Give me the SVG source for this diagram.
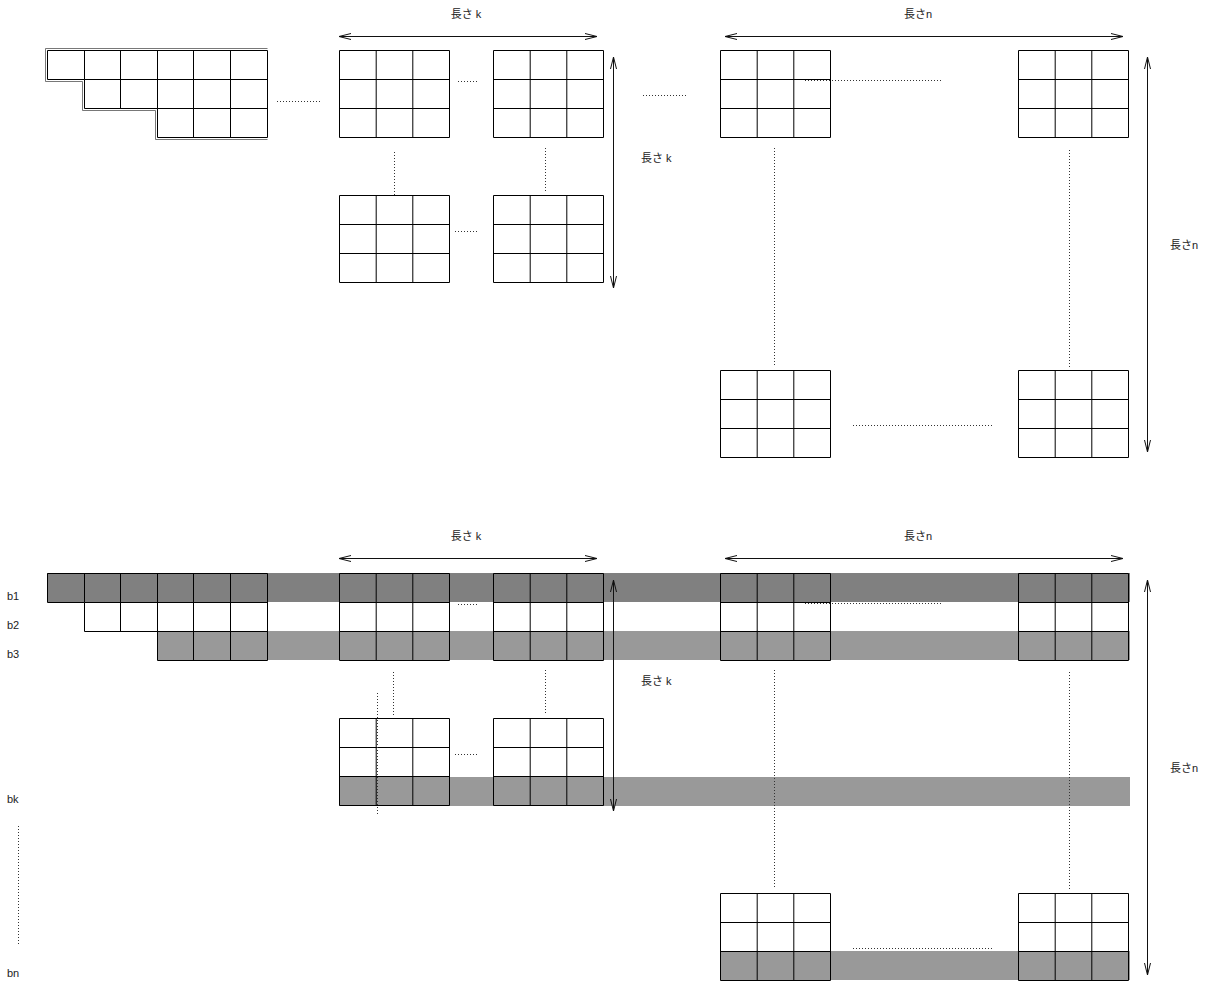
<svg xmlns="http://www.w3.org/2000/svg" xmlns:xlink="http://www.w3.org/1999/xlink" width="1210" height="983" viewBox="0 0 1210 983">
<style>
.grid{fill:none;stroke:#000;stroke-width:1}
.dot{fill:none;stroke:#333;stroke-width:1;stroke-dasharray:1 2}
.arr{fill:none;stroke:#111;stroke-width:1}
.lbl{font-family:"Liberation Sans","Noto Sans CJK JP",sans-serif;font-size:11px;fill:#222}
.dark{fill:#808080}
.light{fill:#999999}
</style>
<defs>
<marker id="chev" viewBox="-13 -4 14 8" refX="0" refY="0" markerWidth="14" markerHeight="8" markerUnits="userSpaceOnUse" orient="auto-start-reverse">
<path d="M-12,-3 L0,0 L-12,3" fill="none" stroke="#111" stroke-width="1"/>
</marker>
<path id="blk" class="grid" d="M0,0H110V87H0Z M36.7,0V87 M73.3,0V87 M0,29H110 M0,58H110"/>
<path id="row3" class="grid" d="M0,0H110V29H0Z M36.7,0V29 M73.3,0V29"/>
</defs>
<rect width="1210" height="983" fill="#fff"/>

<!-- ===== TOP SECTION ===== -->
<g id="top-stair">
<path class="grid" d="M47.5,50.5H267.5V137.5H157.5V108.5H84.5V79.5H47.5Z"/>
<path fill="none" stroke="#555" stroke-width="0.8" d="M45.5,48.5H267.5 M45.5,48.5V81.5H82.5V110.5H155.5V139.5H267.5"/>
<path class="grid" d="M84.5,50.5V79.5 M120.5,50.5V108.5 M157.5,50.5V108.5 M193.5,50.5V137.5 M230.5,50.5V137.5 M84.5,79.5H267.5 M157.5,108.5H267.5"/>
</g>
<g id="top-A"><use xlink:href="#blk" x="339.5" y="50.5"/></g>
<g id="top-B"><use xlink:href="#blk" x="493.5" y="50.5"/></g>
<g id="top-C"><use xlink:href="#blk" x="339.5" y="195.5"/></g>
<g id="top-D"><use xlink:href="#blk" x="493.5" y="195.5"/></g>
<g id="top-E"><use xlink:href="#blk" x="720.5" y="50.5"/></g>
<g id="top-F"><use xlink:href="#blk" x="1018.5" y="50.5"/></g>
<g id="top-G"><use xlink:href="#blk" x="720.5" y="370.5"/></g>
<g id="top-H"><use xlink:href="#blk" x="1018.5" y="370.5"/></g>

<!-- ===== BOTTOM SECTION ===== -->
<g id="bands">
<rect class="dark" x="47" y="573" width="1083" height="29"/>
<rect class="light" x="157" y="631" width="973" height="29"/>
<rect class="light" x="339" y="777" width="791" height="29"/>
<rect class="light" x="720" y="951" width="410" height="29"/>
</g>
<g id="bot-stair">
<path class="grid" d="M47.5,573.5H267.5V660.5H157.5V631.5H84.5V602.5H47.5Z"/>
<path class="grid" d="M84.5,573.5V602.5 M120.5,573.5V631.5 M157.5,573.5V631.5 M193.5,573.5V660.5 M230.5,573.5V660.5 M84.5,602.5H267.5 M157.5,631.5H267.5"/>
</g>
<g id="bot-A"><use xlink:href="#blk" x="339.5" y="573.5"/></g>
<g id="bot-B"><use xlink:href="#blk" x="493.5" y="573.5"/></g>
<g id="bot-C"><use xlink:href="#blk" x="339.5" y="718.5"/></g>
<g id="bot-D"><use xlink:href="#blk" x="493.5" y="718.5"/></g>
<g id="bot-E"><use xlink:href="#blk" x="720.5" y="573.5"/></g>
<g id="bot-F"><use xlink:href="#blk" x="1018.5" y="573.5"/></g>
<g id="bot-G"><use xlink:href="#blk" x="720.5" y="893.5"/></g>
<g id="bot-H"><use xlink:href="#blk" x="1018.5" y="893.5"/></g>

<!-- ===== CONNECTORS ===== -->
<g id="connectors">
<!-- top dotted -->
<path class="dot" d="M277,101.5H321"/>
<path class="dot" d="M458,81.5H479"/>
<path class="dot" d="M643,95.5H687"/>
<path class="dot" d="M805,80.5H943"/>
<path class="dot" d="M394.5,152V195"/>
<path class="dot" d="M545.5,148V192"/>
<path class="dot" d="M455,231.5H479"/>
<path class="dot" d="M774.5,148V366"/>
<path class="dot" d="M1069.5,150V367"/>
<path class="dot" d="M853,425.5H993"/>
<!-- bottom dotted -->
<path class="dot" d="M458,604.5H479"/>
<path class="dot" d="M805,603.5H943"/>
<path class="dot" d="M393.5,672V715"/>
<path class="dot" d="M377.5,693V814"/>
<path class="dot" d="M545.5,670V713"/>
<path class="dot" d="M455,754.5H479"/>
<path class="dot" d="M774.5,670V887"/>
<path class="dot" d="M1069.5,672V890"/>
<path class="dot" d="M853,948.5H993"/>
<path class="dot" d="M18.5,826V946"/>
<!-- arrows -->
<path class="arr" d="M339,36.5H597" marker-start="url(#chev)" marker-end="url(#chev)"/>
<path class="arr" d="M725,36.5H1123" marker-start="url(#chev)" marker-end="url(#chev)"/>
<path class="arr" d="M613.5,57V288" marker-start="url(#chev)" marker-end="url(#chev)"/>
<path class="arr" d="M1147.5,57V452" marker-start="url(#chev)" marker-end="url(#chev)"/>
<path class="arr" d="M339,558.5H597" marker-start="url(#chev)" marker-end="url(#chev)"/>
<path class="arr" d="M725,558.5H1123" marker-start="url(#chev)" marker-end="url(#chev)"/>
<path class="arr" d="M613.5,580V811" marker-start="url(#chev)" marker-end="url(#chev)"/>
<path class="arr" d="M1147.5,580V975" marker-start="url(#chev)" marker-end="url(#chev)"/>
</g>

<g id="labels">
<text class="lbl" x="466" y="18" text-anchor="middle">長さ k</text>
<text class="lbl" x="918" y="18" text-anchor="middle">長さn</text>
<text class="lbl" x="641" y="162">長さ k</text>
<text class="lbl" x="1170" y="249">長さn</text>
<text class="lbl" x="466" y="540" text-anchor="middle">長さ k</text>
<text class="lbl" x="918" y="540" text-anchor="middle">長さn</text>
<text class="lbl" x="641" y="685">長さ k</text>
<text class="lbl" x="1170" y="772">長さn</text>
<text class="lbl" x="7" y="600">b1</text>
<text class="lbl" x="7" y="629">b2</text>
<text class="lbl" x="7" y="658">b3</text>
<text class="lbl" x="7" y="803">bk</text>
<text class="lbl" x="7" y="977">bn</text>
</g>
</svg>
